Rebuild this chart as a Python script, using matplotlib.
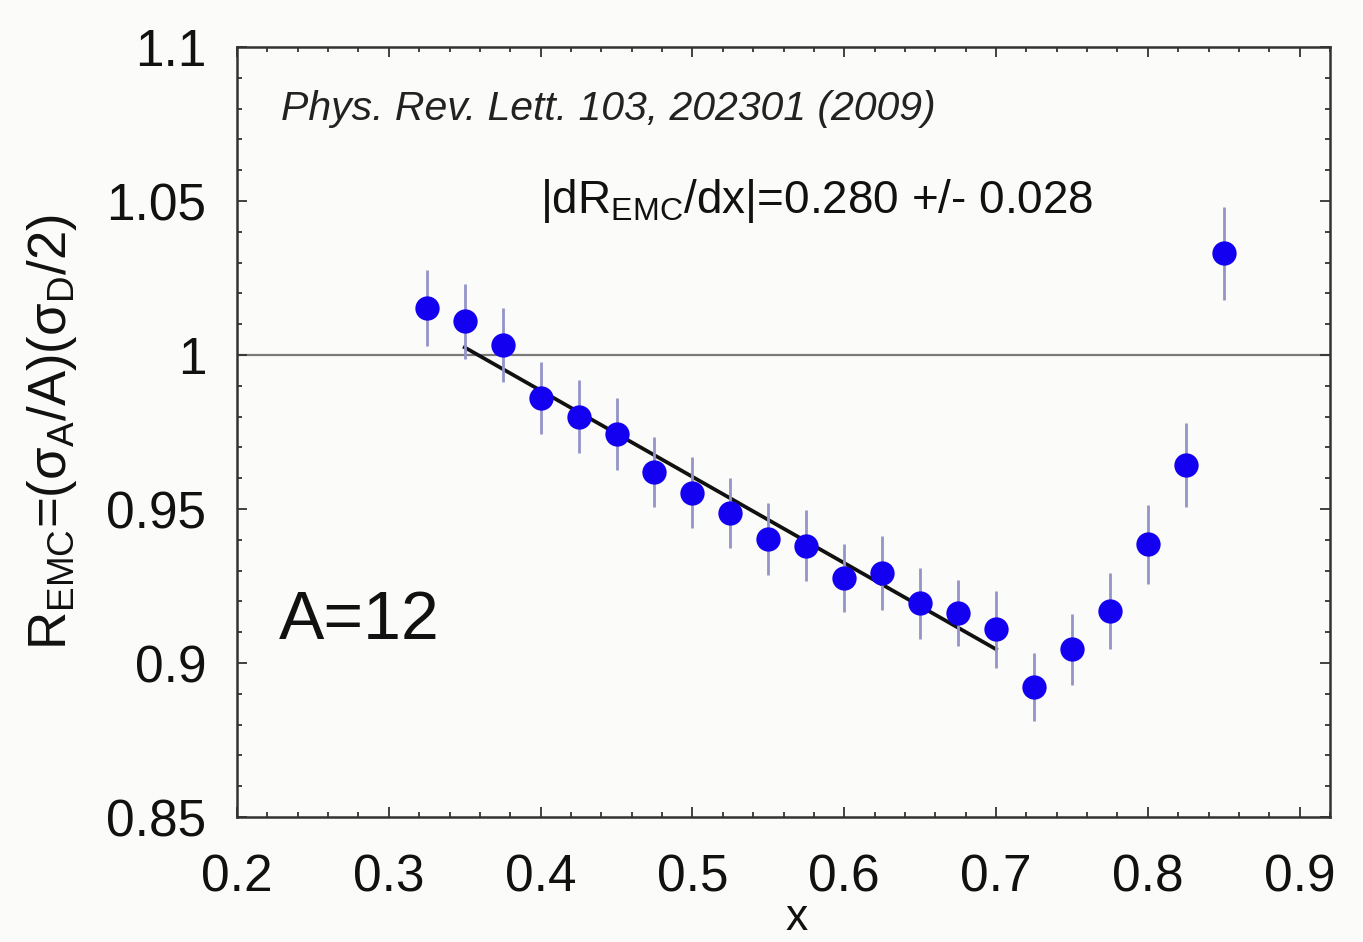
import numpy as np
import matplotlib
matplotlib.use("Agg")
import matplotlib.pyplot as plt
from matplotlib.ticker import MultipleLocator

plt.rcParams["font.family"] = ["Liberation Sans", "DejaVu Sans"]
plt.rcParams["mathtext.fontset"] = "custom"
plt.rcParams["mathtext.rm"] = "Liberation Sans"
plt.rcParams["mathtext.it"] = "Liberation Sans:italic"
plt.rcParams["mathtext.default"] = "regular"

# EMC ratio for carbon (A=12)
x_vals = [0.325, 0.35, 0.375, 0.40, 0.425, 0.45, 0.475, 0.50, 0.525, 0.55, 0.575,
          0.60, 0.625, 0.65, 0.675, 0.70, 0.725, 0.75, 0.775, 0.80, 0.825, 0.85]
r_emc = [1.0152, 1.0110, 1.0032, 0.9861, 0.9800, 0.9744, 0.9619, 0.9553, 0.9486,
         0.9402, 0.9381, 0.9275, 0.9291, 0.9194, 0.9163, 0.9109, 0.8923, 0.9044,
         0.9170, 0.9386, 0.9643, 1.0331]
r_err = [0.0124, 0.0122, 0.0121, 0.0116, 0.0118, 0.0116, 0.0114, 0.0116, 0.0114,
         0.0116, 0.0115, 0.0111, 0.0120, 0.0115, 0.0108, 0.0124, 0.0110, 0.0116,
         0.0123, 0.0128, 0.0136, 0.0151]

# linear fit over 0.35 <= x <= 0.70
slope = -0.280
slope_err = 0.028
fit_range = (0.35, 0.70)

fig = plt.figure(figsize=(13.63, 9.42), dpi=100)
bg = "#fbfbf9"
fig.patch.set_facecolor(bg)
ax = fig.add_axes([237 / 1363, 1 - 817 / 942, (1330 - 237) / 1363, (817 - 47) / 942])
ax.set_facecolor(bg)

xs = np.array(x_vals)
ys = np.array(r_emc)
sel = (xs >= fit_range[0] - 1e-9) & (xs <= fit_range[1] + 1e-9)
intercept = ys[sel].mean() - slope * xs[sel].mean()
fx = np.array(fit_range)

ax.axhline(1.0, color="#7a7a7a", lw=1.6, zorder=1)
ax.plot(fx, intercept + slope * fx, color="#111111", lw=2.7, zorder=2)
ax.errorbar(x_vals, r_emc, yerr=r_err, fmt="none", ecolor="#9494c8", elinewidth=2.0,
            capsize=0, zorder=3)
ax.plot(x_vals, r_emc, "o", color="#1400f0", markersize=17.5, markeredgewidth=0, zorder=4)

ax.set_xlim(0.2, 0.92)
ax.set_ylim(0.85, 1.1)
ax.xaxis.set_minor_locator(MultipleLocator(0.02))
ax.yaxis.set_minor_locator(MultipleLocator(0.01))
ax.set_xticks([0.2, 0.3, 0.4, 0.5, 0.6, 0.7, 0.8, 0.9])
ax.set_xticklabels(["0.2", "0.3", "0.4", "0.5", "0.6", "0.7", "0.8", "0.9"])
ax.set_yticks([0.85, 0.9, 0.95, 1.0, 1.05, 1.1])
ax.set_yticklabels(["0.85", "0.9", "0.95", "1", "1.05", "1.1"])

ax.tick_params(which="both", direction="in", top=True, right=True, colors="#333333",
               width=1.3)
ax.tick_params(which="major", length=7.5, labelsize=37, labelcolor="#111111")
ax.tick_params(which="minor", length=3.8)
ax.tick_params(axis="x", which="major", pad=26)
ax.tick_params(axis="y", which="major", pad=22)
for sp in ax.spines.values():
    sp.set_linewidth(1.8)
    sp.set_color("#333333")

ax.text(0.04, 0.92, "Phys. Rev. Lett. 103, 202301 (2009)", transform=ax.transAxes,
        fontsize=29.5, style="italic", color="#222222", va="center", ha="left")
ax.text(0.277, 0.80, r"|dR$_{EMC}$/dx|=%.3f +/- %.3f" % (-slope, slope_err),
        transform=ax.transAxes, fontsize=33, color="#111111", va="center", ha="left")
ax.text(0.038, 0.255, "A=12", transform=ax.transAxes, fontsize=49, color="#111111",
        va="center", ha="left")

fig.text(52 / 1363, 1 - 432 / 942, r"R$_{EMC}$=($\sigma_A$/A)($\sigma_D$/2)",
         rotation=90, fontsize=38, color="#111111", ha="center", va="center")
fig.text(797 / 1363, 1 - 918 / 942, "x", fontsize=32, color="#111111",
         ha="center", va="center")

fig.savefig("out.png", dpi=100, facecolor=fig.get_facecolor())
